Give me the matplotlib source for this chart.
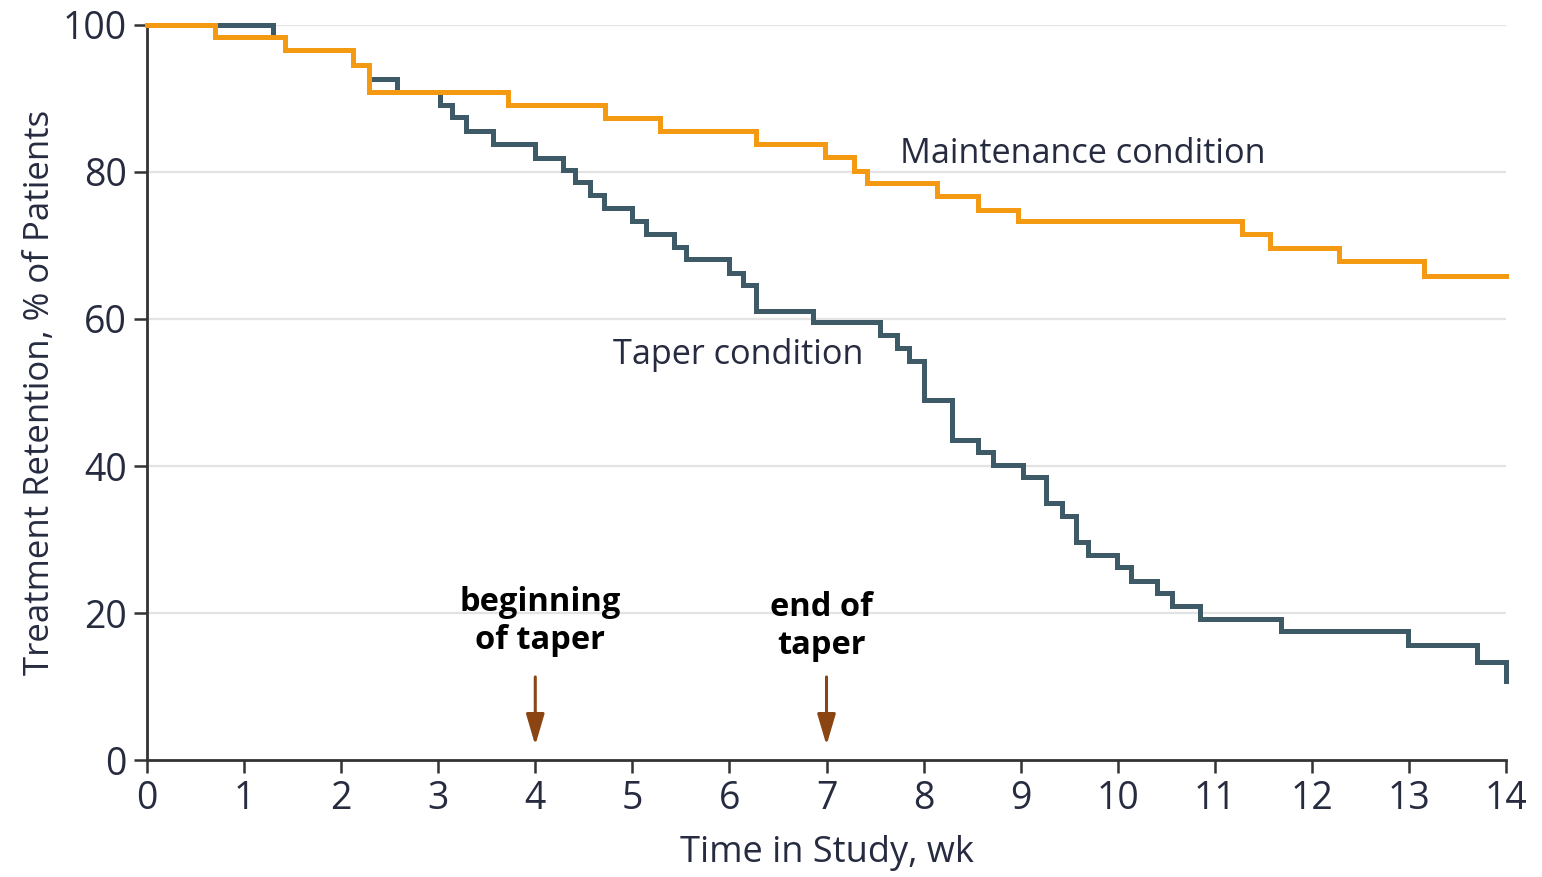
import matplotlib
matplotlib.use("Agg")
import matplotlib.pyplot as plt

# Kaplan-Meier style retention curves (weeks, % of patients)
maint_weeks = [0, 0.70, 1.42, 2.12, 2.29, 3.72, 4.72, 5.28, 6.27, 6.98, 7.28, 7.42,
               8.14, 8.56, 8.97, 11.28, 11.57, 12.28, 13.15, 14.0]
maint_pct = [100, 98.4, 96.6, 94.5, 90.9, 89.1, 87.3, 85.6, 83.8, 82.0, 80.2, 78.5,
             76.7, 74.8, 73.4, 71.5, 69.7, 67.9, 65.8, 65.8]

taper_weeks = [0, 1.30, 1.42, 2.12, 2.29, 2.58, 3.02, 3.14, 3.29, 3.56, 4.00, 4.29,
               4.41, 4.56, 4.71, 5.00, 5.14, 5.43, 5.55, 6.00, 6.14, 6.27, 6.86,
               7.55, 7.73, 7.85, 8.00, 8.29, 8.56, 8.71, 9.02, 9.26, 9.43, 9.57,
               9.69, 9.99, 10.14, 10.40, 10.56, 10.85, 11.68, 12.99, 13.70, 14.0]
taper_pct = [100, 98.4, 96.6, 94.5, 92.7, 90.9, 89.1, 87.5, 85.6, 83.8, 81.9, 80.3,
             78.6, 76.9, 75.1, 73.4, 71.6, 69.8, 68.1, 66.3, 64.6, 61.1, 59.6,
             57.8, 56.0, 54.3, 49.0, 43.6, 41.9, 40.2, 38.5, 34.9, 33.2, 29.7,
             27.9, 26.2, 24.4, 22.7, 20.9, 19.2, 17.5, 15.7, 13.4, 10.8]

x_ticks = list(range(0, 15))
y_ticks = [0, 20, 40, 60, 80, 100]

arrow_weeks = [4, 7]
arrow_labels = ["beginning\nof taper", "end of\ntaper"]

ORANGE = "#F39A12"
SLATE = "#3D5A66"
TXT = "#262B40"

fig = plt.figure(figsize=(15.42, 8.77), dpi=100)
ax = fig.add_axes([0.0953, 0.1334, 0.8814, 0.8381])

ax.step(taper_weeks, taper_pct, where="post", color=SLATE, lw=3.6,
        clip_on=False, zorder=3, solid_joinstyle="miter")
ax.step(maint_weeks, maint_pct, where="post", color=ORANGE, lw=3.6,
        clip_on=False, zorder=4, solid_joinstyle="miter")

ax.set_xlim(0, 14)
ax.set_ylim(0, 100)
ax.set_xticks(x_ticks)
ax.set_yticks(y_ticks)

for yv in y_ticks[1:]:
    ax.axhline(yv, color="#e3e3e3", lw=1.6, zorder=1)

for s in ["top", "right"]:
    ax.spines[s].set_visible(False)
for s in ["left", "bottom"]:
    ax.spines[s].set_color("#333333")
    ax.spines[s].set_linewidth(2)

font = "Open Sans"
ax.tick_params(axis="both", length=9.5, width=1.8, color="#333333",
               labelsize=27, labelcolor=TXT, pad=5)
for lab in ax.get_xticklabels() + ax.get_yticklabels():
    lab.set_family(font)

ax.set_xlabel("Time in Study, wk", family=font, size=26, color=TXT, labelpad=12)
ax.set_ylabel("Treatment Retention, % of Patients", family=font, size=25,
              color=TXT, labelpad=4)

ax.text(7.76, 82.4, "Maintenance condition", family=font, size=24.7, color=TXT,
        va="center", ha="left")
ax.text(4.80, 55.1, "Taper condition", family=font, size=24.7, color=TXT,
        va="center", ha="left")

# taper markers
text_x = [4.05, 6.95]
text_y = [18.9, 18.2]
for xw, lbl, tx, ty in zip(arrow_weeks, arrow_labels, text_x, text_y):
    ax.annotate("", xy=(xw, 2.0), xytext=(xw, 11.3),
                arrowprops=dict(arrowstyle="-|>,head_length=0.95,head_width=0.28",
                                mutation_scale=20, color="#8B4513", lw=2.2,
                                shrinkA=0, shrinkB=0))
    ax.text(tx, ty, lbl, family=font, weight="bold", size=23.5, color="black",
            ha="center", va="center", linespacing=1.2)

fig.savefig("out.png", dpi=100)
